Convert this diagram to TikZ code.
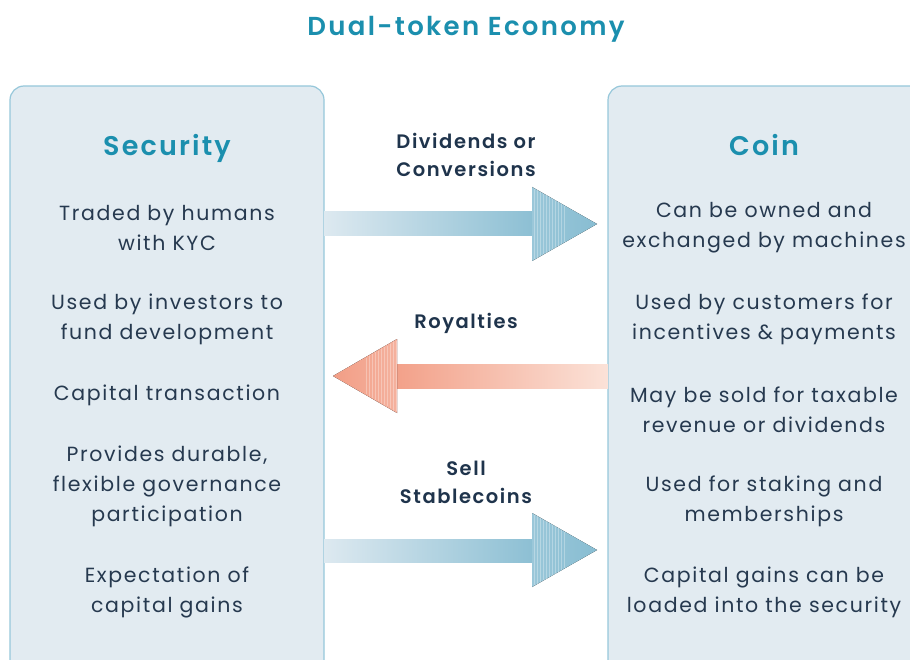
\documentclass[tikz,border=0pt]{standalone}
\usepackage{fontspec}
\setmainfont{Poppins}
\newfontfamily\medfont{Poppins SemiBold}
\usepackage{tikz}
\usetikzlibrary{positioning}
\definecolor{titleteal}{HTML}{1B8FAE}
\definecolor{navy}{HTML}{1F344C}
\definecolor{bodytext}{HTML}{26394F}
\definecolor{boxfill}{HTML}{E2EBF1}
\definecolor{boxline}{HTML}{96C7DA}
\definecolor{blueL}{HTML}{DDE9F0}
\definecolor{blueR}{HTML}{88BDD2}
\definecolor{redL}{HTML}{F29E86}
\definecolor{redR}{HTML}{FBE2D8}

\begin{document}
\begin{tikzpicture}[x=1pt,y=-1pt,
		panel/.style={draw=boxline, fill=boxfill, line width=1.2pt, rounded corners=14pt},
		heading/.style={text=titleteal, font=\medfont\fontsize{27}{30}\selectfont\addfontfeatures{LetterSpace=8}},
		item/.style={align=center, text=bodytext, font=\fontsize{20.5}{30}\selectfont\addfontfeatures{LetterSpace=8}},
		label/.style={align=center, text=navy, font=\medfont\fontsize{19.5}{28}\selectfont\addfontfeatures{LetterSpace=8}}]
		\useasboundingbox (0,0) rectangle (910,660);
		\clip (0,0) rectangle (910,660);
		
		% panels
		\draw[panel] (10,86) rectangle (324,720);
		\draw[panel] (608,86) rectangle (980,720);
		
		\node[heading, font=\medfont\fontsize{26}{30}\selectfont\addfontfeatures{LetterSpace=9}] (title) at (466,29) {Dual-token Economy};
		\node[heading, anchor=base] (security) at (167,156) {Security};
		\node[heading, anchor=base] (coin) at (764,156) {Coin};
		
		% security side
		\node[item] (s1) at (167,228) {Traded by humans\\with KYC};
		\node[item] (s2) at (167,319) {Used by investors to\\fund development};
		\node[item] (s3) at (167,395) {Capital transaction};
		\node[item] (s4) at (167,486) {Provides durable,\\flexible governance\\participation};
		\node[item] (s5) at (167,592) {Expectation of\\capital gains};
		
		% coin side
		\node[item] (c1) at (764,228) {Can be owned and\\exchanged by machines};
		\node[item] (c2) at (764,319) {Used by customers for\\incentives \& payments};
		\node[item] (c3) at (764,410) {May be sold for taxable\\revenue or dividends};
		\node[item] (c4) at (764,501) {Used for staking and\\memberships};
		\node[item] (c5) at (764,592) {Capital gains can be\\loaded into the security};
		
		% arrows
		\coordinate (d) at (597,224);
		\coordinate (r) at (333,376);
		\coordinate (st) at (597,550);
		\fill[left color=blueL, right color=blueR] (324,212) rectangle (545,236);
		\fill[left color=blueR!85, right color=blueR] (532,187) -- (d) -- (532,261) -- cycle;
		\foreach \x in {534,537,...,564}
			\draw[white, opacity=0.3, line width=0.6pt] (\x,{224-(597-\x)*0.56}) -- (\x,{224+(597-\x)*0.56});
		
		\fill[left color=redL, right color=redR] (387,364) rectangle (608,388);
		\fill[left color=redL, right color=redL!80] (397,339) -- (r) -- (397,413) -- cycle;
		\foreach \x in {366,369,...,396}
			\draw[white, opacity=0.3, line width=0.6pt] (\x,{376-(\x-333)*0.56}) -- (\x,{376+(\x-333)*0.56});
		
		\fill[left color=blueL, right color=blueR] (324,539) rectangle (545,562);
		\fill[left color=blueR!85, right color=blueR] (532,513) -- (st) -- (532,587) -- cycle;
		\foreach \x in {534,537,...,564}
			\draw[white, opacity=0.3, line width=0.6pt] (\x,{550-(597-\x)*0.56}) -- (\x,{550+(597-\x)*0.56});
		
		\node[label] (divlbl) at (466,155) {Dividends or\\Conversions};
		\node[label] (roylbl) at (466,323) {Royalties};
		\node[label] (selllbl) at (466,482) {Sell\\Stablecoins};
	\end{tikzpicture}
\end{document}
